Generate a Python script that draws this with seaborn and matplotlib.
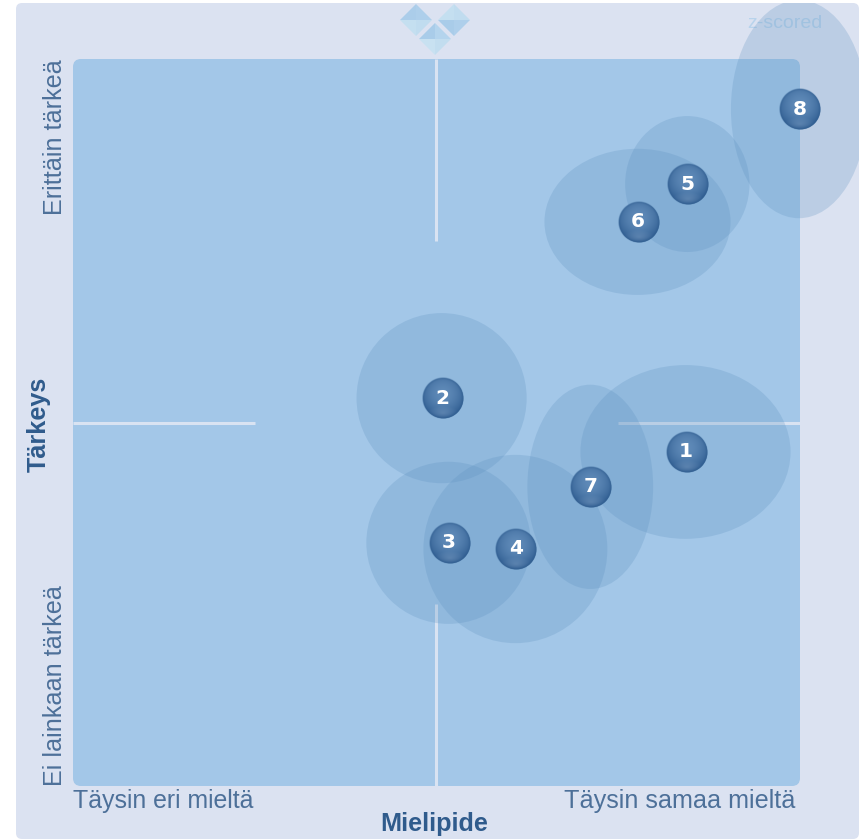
import numpy as np
import pandas as pd
import seaborn as sns
import matplotlib
matplotlib.use('Agg')
import matplotlib.pyplot as plt
from matplotlib.patches import Ellipse, FancyBboxPatch, Polygon

# statements, opinion (x) and importance (y) on a -1..1 scale, with spread
labels = ['1', '2', '3', '4', '5', '6', '7', '8']
opinion = [0.688, 0.017, 0.036, 0.220, 0.693, 0.556, 0.426, 1.000]
importance = [-0.081, 0.067, -0.331, -0.348, 0.656, 0.552, -0.177, 0.862]
spread_x = [0.289, 0.234, 0.226, 0.253, 0.171, 0.256, 0.173, 0.187]
spread_y = [0.239, 0.234, 0.223, 0.259, 0.187, 0.201, 0.281, 0.300]

x_title = 'Mielipide'
y_title = 'Tärkeys'
x_low, x_high = 'Täysin eri mieltä', 'Täysin samaa mieltä'
y_low, y_high = 'Ei lainkaan tärkeä', 'Erittäin tärkeä'

W, H = 859, 839
TEXT = '#4d7099'
TITLE = '#2f5b8c'

df = pd.DataFrame({'opinion': opinion, 'importance': importance, 'label': labels})

sns.set_theme(style='white')
plt.rcParams['font.family'] = ['Liberation Sans', 'DejaVu Sans']
fig = plt.figure(figsize=(W / 100, H / 100), dpi=100, facecolor='white')

# background layer in pixel coordinates
bg = fig.add_axes([0, 0, 1, 1], zorder=0)
bg.set_xlim(0, W)
bg.set_ylim(H, 0)
bg.axis('off')
panel = FancyBboxPatch((22, 9), W - 28, H - 15, boxstyle='round,pad=6', fc='#dbe2f1', ec='none')
bg.add_patch(panel)
bg.add_patch(FancyBboxPatch((81, 67), 711, 711, boxstyle='round,pad=8', fc='#a3c7e8', ec='none'))

# logo
def diamond(cx, cy, r, shades):
    pts = [(cx, cy - r), (cx + r, cy), (cx, cy + r), (cx - r, cy)]
    for i, c in enumerate(shades):
        bg.add_patch(Polygon([(cx, cy), pts[i], pts[(i + 1) % 4]], fc=c, ec='none'))

diamond(416, 20, 16, ['#aecfeb', '#c0dcef', '#c4dff0', '#abcdea'])
diamond(454, 20, 16, ['#c0dcef', '#aecfeb', '#a9cce9', '#c4dff0'])
diamond(435, 39, 16, ['#b4d4ed', '#c2ddef', '#c8e1f1', '#a9cce9'])

# chart layer
ax = fig.add_axes([73 / W, 1 - 786 / H, 727 / W, 727 / H], zorder=1)
ax.patch.set_alpha(0)
ax.set_xlim(-1, 1)
ax.set_ylim(-1, 1)
ax.axis('off')

# cross in the middle
for xs, ys in [((-0.002, -0.002), (0.5, 1)), ((-0.002, -0.002), (-1, -0.5)),
               ((-1, -0.5), (0, 0)), ((0.5, 1), (0, 0))]:
    ax.plot(xs, ys, color='#d9e3f2', lw=2.2, solid_capstyle='butt', zorder=1)

for x, y, sx, sy in zip(opinion, importance, spread_x, spread_y):
    e = Ellipse((x - 0.003, y), 2 * sx, 2 * sy, fc='#5c90bf', ec='none', alpha=0.25, zorder=2)
    ax.add_patch(e)
    e.set_clip_box(fig.bbox)
    e.set_clip_path(panel)

sns.scatterplot(data=df, x='opinion', y='importance', s=820, color='#3a6898',
                linewidth=0, legend=False, ax=ax, zorder=3, clip_on=False)
ax.set_xlim(-1, 1)
ax.set_ylim(-1, 1)

# shaded ball sprite
n = 88
gy, gx = np.mgrid[-1:1:n * 1j, -1:1:n * 1j]
r = np.hypot(gx, gy)
t = np.clip(np.hypot(gx, gy - 0.22) / 1.2, 0, 1)
edge = np.array(matplotlib.colors.to_rgb('#2d5b8f'))
mid = np.array(matplotlib.colors.to_rgb('#5f8ab8'))
rgb = edge + (mid - edge)[None, None, :] * (1 - t[..., None] ** 1.8)
glow = np.clip(1 - np.hypot(gx, (gy + 0.72) * 2.2) / 0.75, 0, 1)[..., None]
rgb = rgb + (np.array([0.62, 0.72, 0.84]) - rgb) * glow * 0.3
rim = np.clip((r - 0.86) / 0.14, 0, 1)[..., None]
rgb = rgb + (edge - rgb) * rim * 0.5
alpha = np.clip((1 - r) * 22, 0, 1)[..., None]
sprite = np.dstack([rgb, alpha])

ball = 21 / 363.5
for x, y, lab in zip(opinion, importance, labels):
    ax.imshow(sprite, extent=(x - ball, x + ball, y - ball, y + ball), origin='lower',
              aspect='auto', zorder=4, clip_on=False, interpolation='bilinear')
    ax.text(x - 0.002, y, lab, color='white', fontsize=14.5, fontweight='bold', ha='center',
            va='center', family=['DejaVu Sans'], zorder=5)
ax.set_xlim(-1, 1)
ax.set_ylim(-1, 1)

# texts
bg.text(73, 801, x_low, color=TEXT, fontsize=17.9, ha='left', va='center')
bg.text(795, 801, x_high, color=TEXT, fontsize=18.1, ha='right', va='center')
bg.text(55, 786, y_low, color=TEXT, fontsize=18.1, rotation=90, ha='center', va='bottom')
bg.text(55, 215, y_high, color=TEXT, fontsize=18.1, rotation=90, ha='center', va='bottom')
bg.text(434, 824, x_title, color=TITLE, fontsize=18.2, fontweight='bold', ha='center', va='center')
bg.text(39, 424, y_title, color=TITLE, fontsize=18.2, fontweight='bold', rotation=90, ha='center', va='center')
bg.text(785, 24, 'z-scored', color='#b8d3ec', fontsize=14, ha='center', va='center')

fig.savefig('out.png', dpi=100)
